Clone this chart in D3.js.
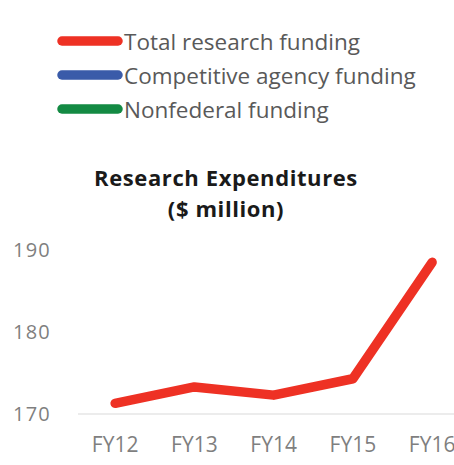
<!DOCTYPE html>
<html>
<head>
<meta charset="utf-8">
<script src="https://cdn.jsdelivr.net/npm/d3@7"></script>
<style>
  body { margin: 0; background: #fff; }
  svg { display: block; font-family: "Open Sans", sans-serif; }
</style>
</head>
<body>
<svg id="chart" width="454" height="465"></svg>
<script>
// data
var years = ["FY12", "FY13", "FY14", "FY15", "FY16"];
var totalFunding = [171.3, 173.3, 172.3, 174.3, 188.5];
var yTicks = [170, 180, 190];

var legendNames = ["Total research funding", "Competitive agency funding", "Nonfederal funding"];
var legendColors = ["#ee3124", "#3a5ba9", "#138a43"];

var svg = d3.select("#chart");

// legend (only the first series has data in the chart)
var leg = svg.append("g").attr("class", "legend");
legendNames.forEach(function(name, i){
    var ly = 41 + i*34;
    leg.append("line")
	.attr("x1", 62).attr("x2", 118)
	.attr("y1", ly).attr("y2", ly)
	.attr("stroke", legendColors[i])
	.attr("stroke-width", 9.5)
	.attr("stroke-linecap", "round");
    leg.append("text")
	.attr("x", 124).attr("y", ly + 9)
	.attr("fill", "#595959")
	.attr("font-size", "22.5px")
	.text(name);
});

// title - two lines, kept slightly apart so they don't collide
var title = svg.append("text")
    .attr("text-anchor", "middle")
    .attr("font-weight", "bold")
    .attr("font-size", "22px")
    .attr("letter-spacing", "0.6px")
    .attr("fill", "#1a1a1a");
title.append("tspan").attr("x", 226).attr("y", 186).text("Research Expenditures");
title.append("tspan").attr("x", 226).attr("y", 217).text("($ million)");

// scales - the plot runs past the right edge, like the original
var x = d3.scaleBand().domain(years).range([75.5, 471.75]);
var y = d3.scaleLinear().domain([170, 190]).range([414, 250]);

// baseline
svg.append("line")
    .attr("x1", 78).attr("x2", 454)
    .attr("y1", y(170)).attr("y2", y(170))
    .attr("stroke", "#d9d9d9").attr("stroke-width", 1);

// y tick labels (no axis line)
svg.append("g").selectAll("text").data(yTicks).enter()
    .append("text")
    .attr("x", 13).attr("y", function(d){ return y(d) + 7; })
    .attr("fill", "#7f7f7f")
    .attr("font-size", "20px")
    .attr("letter-spacing", "1.2px")
    .text(function(d){ return d; });

// x tick labels
svg.append("g").selectAll("text").data(years).enter()
    .append("text")
    .attr("x", function(d){ return x(d) + x.bandwidth()/2; })
    .attr("y", 451.5)
    .attr("text-anchor", "middle")
    .attr("fill", "#7f7f7f")
    .attr("font-size", "21px")
    .text(function(d){ return d; });

// the line
var line = d3.line()
    .x(function(d, i){ return x(years[i]) + x.bandwidth()/2; })
    .y(function(d){ return y(d); });

svg.append("path")
    .datum(totalFunding)
    .attr("d", line)
    .attr("fill", "none")
    .attr("stroke", legendColors[0])
    .attr("stroke-width", 9.5)
    .attr("stroke-linecap", "round")
    .attr("stroke-linejoin", "round");
</script>
</body>
</html>
